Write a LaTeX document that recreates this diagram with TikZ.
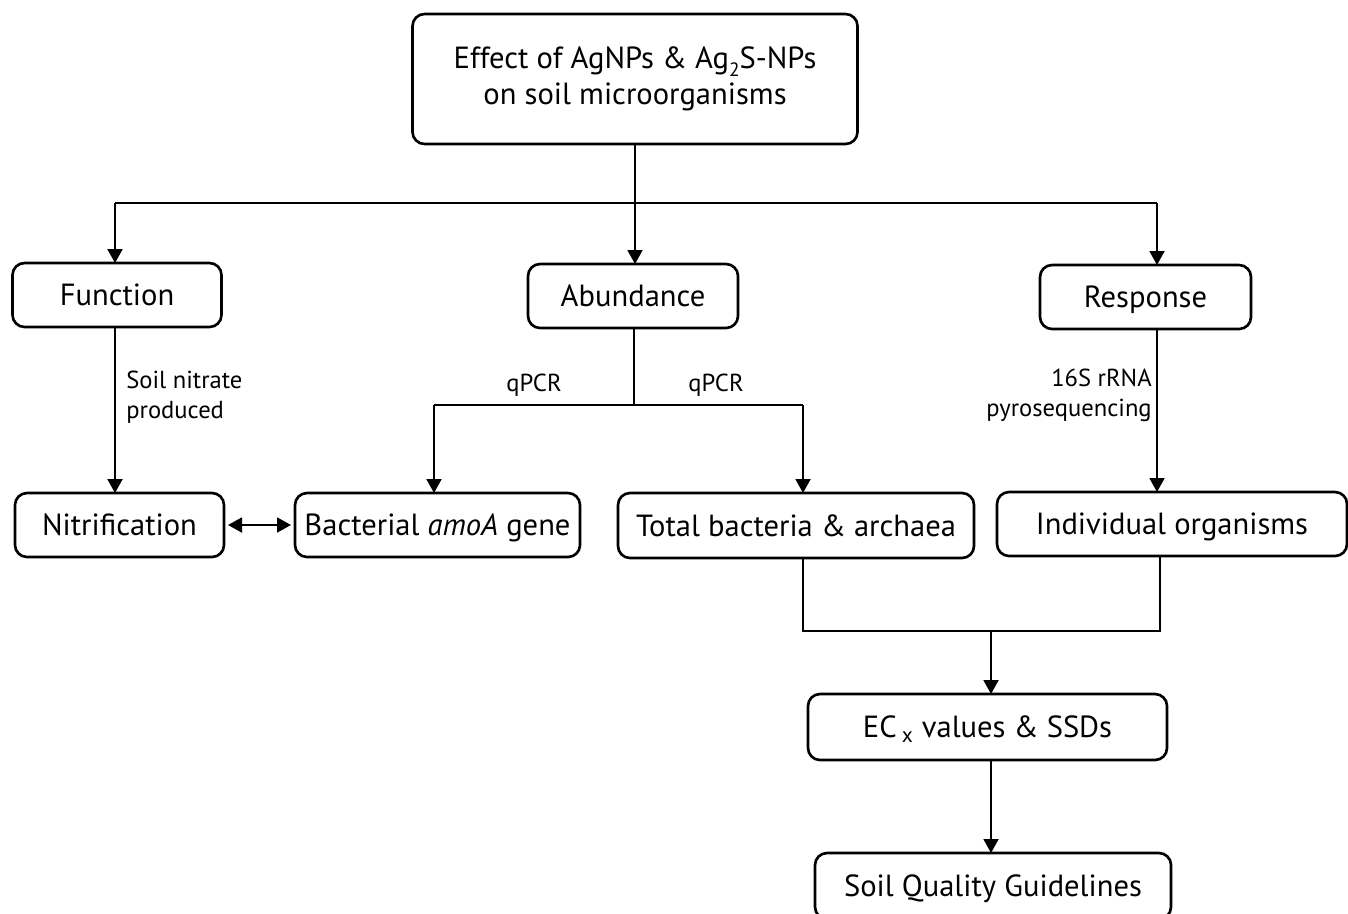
\documentclass[tikz,border=0pt]{standalone}
\usepackage{fontspec}
\setmainfont{PT Sans}
\usetikzlibrary{arrows.meta}
\def\U{0.02cm}
\tikzset{
  boxbase/.style={draw, line width=1.5pt, rounded corners=0.24cm, inner sep=0pt, outer sep=0pt,
    font=\fontsize{17.4}{20}\selectfont},
  box/.style={boxbase, text height=12pt, text depth=0pt},
  conn/.style={line width=1.1pt},
  arr/.style={conn, -{Triangle[width=0.3cm,length=0.28cm]}},
  dbl/.style={conn, {Triangle[width=0.3cm,length=0.28cm]}-{Triangle[width=0.3cm,length=0.28cm]}},
  lab/.style={font=\fontsize{14}{17}\selectfont, inner sep=0pt}
}
\begin{document}
\begin{tikzpicture}[x=0.02cm, y=-0.02cm]
\useasboundingbox (0,0) rectangle (1348,913);
% boxes
\node[boxbase, minimum width=445*\U, minimum height=130*\U, align=center,
  font=\fontsize{17.4}{20.5}\selectfont] (top) at (635,79)
  {Effect of AgNPs \& Ag\raisebox{-0.5ex}{\fontsize{11}{11}\selectfont 2}S-NPs\\ on soil microorganisms};
\node[box, minimum width=209*\U, minimum height=64*\U] (func) at (117,295) {Function};
\node[box, minimum width=210*\U, minimum height=64*\U] (abund) at (633,296) {Abundance};
\node[box, minimum width=211*\U, minimum height=64*\U] (resp) at (1145.5,297) {Response};
\node[box, minimum width=209*\U, minimum height=64*\U] (nitr) at (119.5,525) {Nitrification};
\node[box, minimum width=285*\U, minimum height=64*\U] (bact) at (437.5,525) {Bacterial \textit{amoA} gene};
\node[box, minimum width=356*\U, minimum height=65*\U] (total) at (796,525.5) {Total bacteria \& archaea};
\node[box, minimum width=350*\U, minimum height=64*\U] (indiv) at (1172,524) {Individual organisms};
\node[box, minimum width=359*\U, minimum height=66*\U] (ec) at (987.5,727) {EC\,\textsubscript{x} values \& SSDs};
\node[box, minimum width=356*\U, minimum height=66*\U] (sqg) at (993,886) {Soil Quality Guidelines};
% junctions
\coordinate (jl) at (115,203);
\coordinate (jr) at (1157,203);
\coordinate (ja) at (634,405);
\coordinate (jb) at (434,405);
\coordinate (jc) at (803,405);
\coordinate (jd) at (803,631);
\coordinate (je) at (1160,631);
\coordinate (jf) at (991,631);
% top level
\draw[conn] (jl) -- (jr);
\draw[arr] (top.south) -- (top.south |- abund.north);
\draw[arr] (jl) -- (jl |- func.north);
\draw[arr] (jr) -- (jr |- resp.north);
% function
\draw[arr] (jl |- func.south) -- (jl |- nitr.north);
\node[lab, anchor=base west, align=left] (lfunc) at (126,418) {Soil nitrate\\produced};
% abundance
\draw[conn] (ja |- abund.south) -- (ja);
\draw[conn] (jb) -- (jc);
\draw[arr] (jb) -- (jb |- bact.north);
\draw[arr] (jc) -- (jc |- total.north);
\node[lab, anchor=base] (lq1) at (534,391) {qPCR};
\node[lab, anchor=base] (lq2) at (716,391) {qPCR};
% response
\draw[arr] (jr |- resp.south) -- (jr |- indiv.north);
\node[lab, anchor=base east, align=right] (lresp) at (1152,416) {16S rRNA\\pyrosequencing};
% double arrow
\draw[dbl] ([xshift=4*\U]nitr.east) -- ([xshift=-4*\U]bact.west);
% merge
\draw[conn] (jd |- total.south) -- (jd) -- (je) -- (je |- indiv.south);
\draw[arr] (jf) -- (jf |- ec.north);
\draw[arr] (jf |- ec.south) -- (jf |- sqg.north);
\end{tikzpicture}
\end{document}
